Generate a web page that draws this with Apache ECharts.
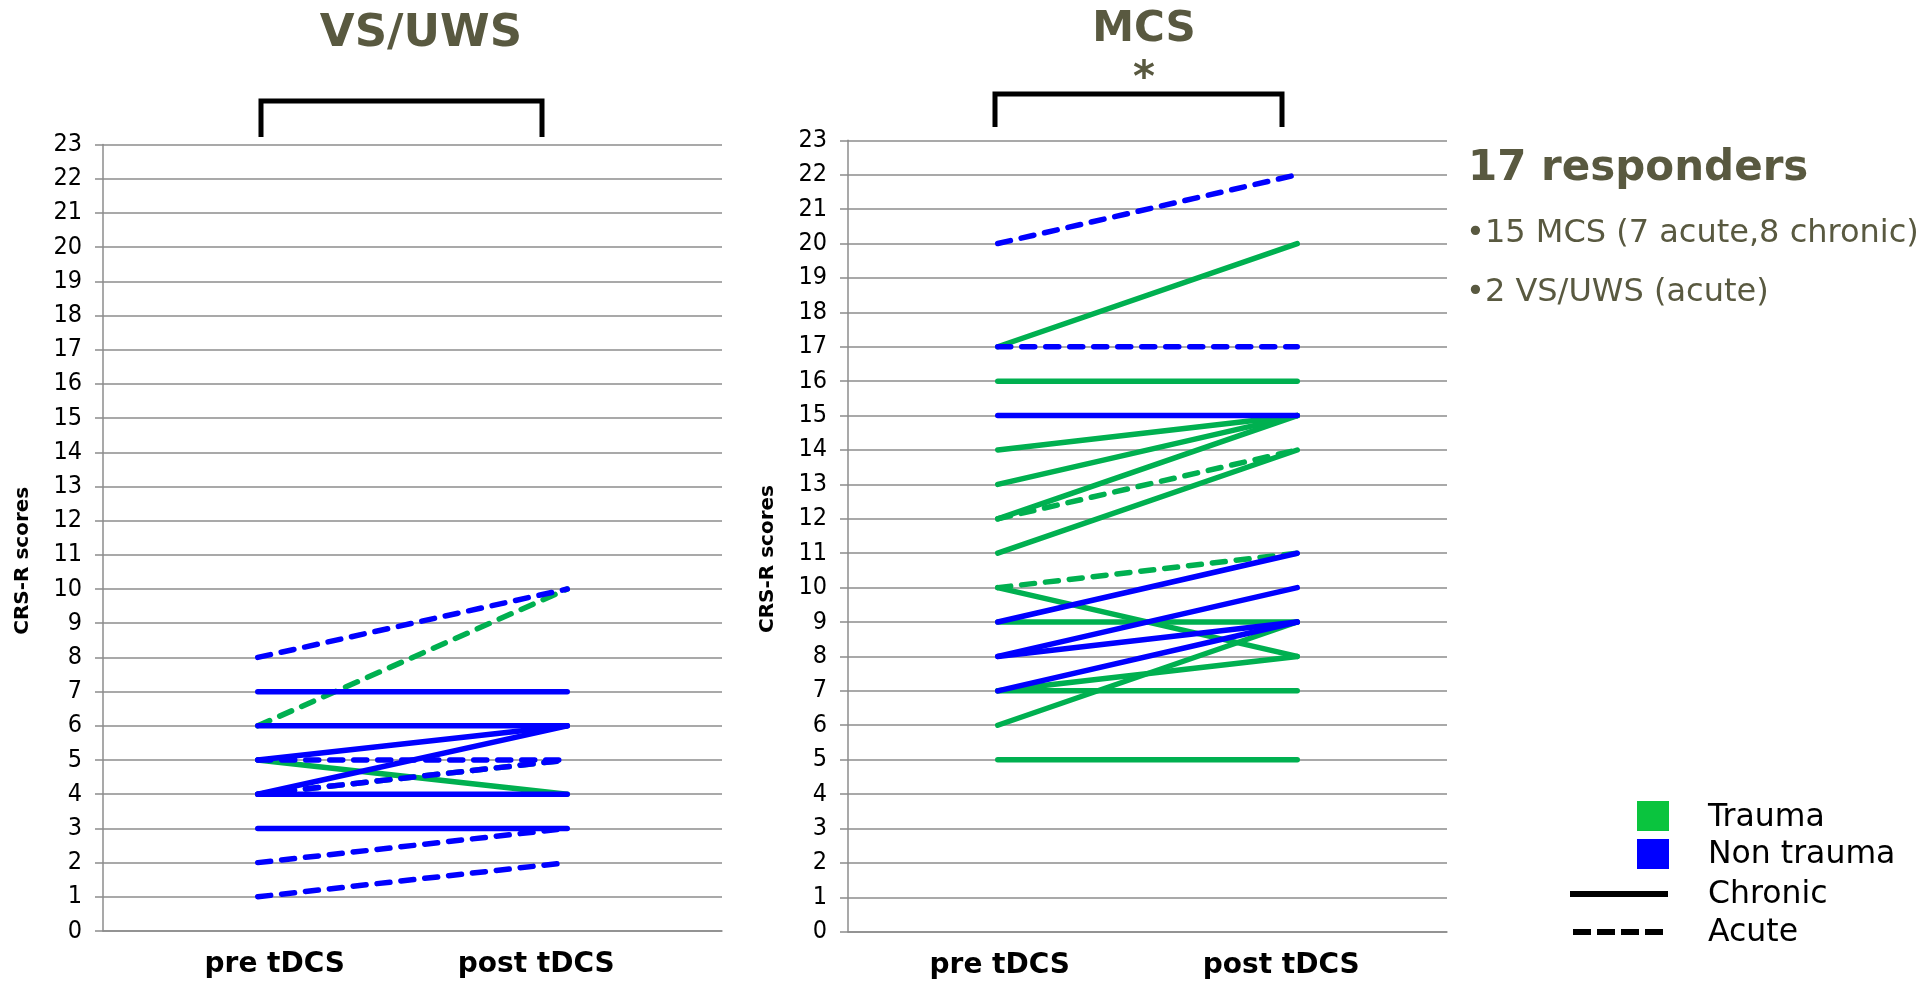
<!DOCTYPE html>
<html>
<head>
<meta charset="utf-8">
<script src="https://cdn.jsdelivr.net/npm/echarts@6/dist/echarts.min.js"></script>
<style>
html,body{margin:0;padding:0;background:#fff;}
#chart{width:1919px;height:982px;}
</style>
</head>
<body>
<div id="chart"></div>
<script>
// ---- data ----
const categories = ['pre tDCS', 'post tDCS'];
const yMin = 0, yMax = 23, yStep = 1;

// VS/UWS panel
const vsPre   = [8, 6, 7, 6, 5, 4, 5, 5, 4, 4, 4, 3, 2, 1];
const vsPost  = [10, 10, 7, 6, 6, 6, 5, 4, 5, 5, 4, 3, 3, 2];
const vsCause = ['non', 'trauma', 'non', 'non', 'non', 'non', 'non', 'trauma', 'trauma', 'non', 'non', 'non', 'non', 'non'];
const vsPhase = ['acute', 'acute', 'chronic', 'chronic', 'chronic', 'chronic', 'acute', 'chronic', 'acute', 'acute', 'chronic', 'chronic', 'acute', 'acute'];

// MCS panel
const mcsPre   = [20, 17, 17, 16, 15, 14, 13, 12, 12, 11, 10, 9, 10, 9, 8, 8, 7, 7, 7, 6, 5];
const mcsPost  = [22, 20, 17, 16, 15, 15, 15, 15, 14, 14, 11, 11, 8, 9, 10, 9, 9, 8, 7, 9, 5];
const mcsCause = ['non', 'trauma', 'non', 'trauma', 'non', 'trauma', 'trauma', 'trauma', 'trauma', 'trauma', 'trauma', 'non', 'trauma', 'trauma', 'non', 'non', 'non', 'trauma', 'trauma', 'trauma', 'trauma'];
const mcsPhase = ['acute', 'chronic', 'acute', 'chronic', 'chronic', 'chronic', 'chronic', 'chronic', 'acute', 'chronic', 'acute', 'chronic', 'chronic', 'chronic', 'chronic', 'chronic', 'chronic', 'chronic', 'chronic', 'chronic', 'chronic'];

const panelTitles = ['VS/UWS', 'MCS'];
const significance = '*';
const yAxisName = 'CRS-R scores';
const summaryTitle = '17 responders';
const summaryLines = ['•15 MCS (7 acute,8 chronic)', '•2 VS/UWS (acute)'];
const legendLabels = ['Trauma', 'Non trauma', 'Chronic', 'Acute'];

// ---- styles ----
const GREEN = '#00B050';
const BLUE = '#0000FF';
const OLIVE = '#595940';
const GRIDC = '#8c8c8c';
const FONT = '"DejaVu Sans", Verdana, sans-serif';
const TICKFONT = '"Liberation Sans Narrow", "DejaVu Sans Condensed", "Liberation Sans", sans-serif';

function buildSeries(pre, post, cause, phase, idx) {
  return pre.map((p, i) => ({
    type: 'line',
    xAxisIndex: idx,
    yAxisIndex: idx,
    data: [p, post[i]],
    symbol: 'none',
    silent: true,
    lineStyle: {
      color: cause[i] === 'trauma' ? GREEN : BLUE,
      width: 5.5,
      type: phase[i] === 'acute' ? [13, 11] : 'solid',
      cap: 'round',
      join: 'round'
    },
    z: cause[i] === 'trauma' ? 2 : 3
  }));
}

function xAxis(idx, shifts) {
  return {
    type: 'category',
    gridIndex: idx,
    data: categories,
    boundaryGap: true,
    axisLine: { show: true, lineStyle: { color: GRIDC, width: 1.5 } },
    axisTick: { show: false },
    axisLabel: {
      margin: 20,
      interval: 0,
      formatter: (v, i) => '{' + (i === 0 ? 'a' : 'b') + '|' + v + '}',
      rich: {
        a: { fontFamily: FONT, fontWeight: 'bold', fontSize: 28, color: '#000', padding: shifts[0] },
        b: { fontFamily: FONT, fontWeight: 'bold', fontSize: 28, color: '#000', padding: shifts[1] }
      }
    }
  };
}

function yAxis(idx) {
  return {
    type: 'value',
    gridIndex: idx,
    min: yMin, max: yMax, interval: yStep,
    name: yAxisName,
    nameLocation: 'middle',
    nameRotate: 90,
    nameGap: 70,
    nameTextStyle: { fontFamily: FONT, fontWeight: 'bold', fontSize: 20, color: '#000', padding: [0, 46, 0, 0] },
    axisLine: { show: true, lineStyle: { color: GRIDC, width: 1.5 } },
    axisTick: { show: true, length: 8, lineStyle: { color: GRIDC, width: 1.5 } },
    axisLabel: { margin: 21, fontFamily: TICKFONT, fontSize: 25, color: '#000' },
    splitLine: { show: true, lineStyle: { color: GRIDC, width: 1.5 } }
  };
}

const chart = echarts.init(document.getElementById('chart'), null, { renderer: 'canvas' });

const graphics = [
  // brackets
  { type: 'polyline', shape: { points: [[261, 137], [261, 101], [542, 101], [542, 137]] }, style: { stroke: '#000', lineWidth: 5, fill: null } },
  { type: 'polyline', shape: { points: [[995, 127], [995, 94], [1282, 94], [1282, 127]] }, style: { stroke: '#000', lineWidth: 5, fill: null } },
  // summary
  { type: 'text', x: 1468, y: 169, style: { text: summaryTitle, font: 'bold 42px ' + FONT, fill: OLIVE, verticalAlign: 'middle' } },
  { type: 'text', x: 1466, y: 234, style: { text: summaryLines[0], font: '32px ' + FONT, fill: OLIVE, verticalAlign: 'middle' } },
  { type: 'text', x: 1466, y: 293, style: { text: summaryLines[1], font: '32px ' + FONT, fill: OLIVE, verticalAlign: 'middle' } },
  // legend
  { type: 'rect', shape: { x: 1637, y: 801, width: 32, height: 30 }, style: { fill: '#0AC43E' } },
  { type: 'rect', shape: { x: 1637, y: 839, width: 32, height: 30 }, style: { fill: '#0000FF' } },
  { type: 'line', shape: { x1: 1570, y1: 894, x2: 1668, y2: 894 }, style: { stroke: '#000', lineWidth: 6 } },
  { type: 'line', shape: { x1: 1573, y1: 932, x2: 1663, y2: 932 }, style: { stroke: '#000', lineWidth: 6, lineDash: [18, 6] } },
  { type: 'text', x: 1708, y: 818, style: { text: legendLabels[0], font: '31.5px ' + FONT, fill: '#000', verticalAlign: 'middle' } },
  { type: 'text', x: 1708, y: 855, style: { text: legendLabels[1], font: '31.5px ' + FONT, fill: '#000', verticalAlign: 'middle' } },
  { type: 'text', x: 1708, y: 895, style: { text: legendLabels[2], font: '31.5px ' + FONT, fill: '#000', verticalAlign: 'middle' } },
  { type: 'text', x: 1708, y: 933, style: { text: legendLabels[3], font: '31.5px ' + FONT, fill: '#000', verticalAlign: 'middle' } }
];

const option = {
  animation: false,
  backgroundColor: '#fff',
  title: [
    { text: panelTitles[0], left: 416, top: 7, textAlign: 'center', textStyle: { fontFamily: FONT, fontWeight: 'bold', fontSize: 45, color: OLIVE } },
    { text: panelTitles[1] + '\n' + significance, left: 1139, top: 0, textAlign: 'center', textStyle: { fontFamily: FONT, fontWeight: 'bold', fontSize: 42, color: OLIVE, lineHeight: 50 } }
  ],
  grid: [
    { left: 103, top: 144.5, width: 619, height: 786.5, containLabel: false },
    { left: 848, top: 140.3, width: 599, height: 791.4, containLabel: false }
  ],
  xAxis: [xAxis(0, [[0, 0, 0, 34], [0, 62, 0, 0]]), xAxis(1, [[0, 0, 0, 4], [0, 32, 0, 0]])],
  yAxis: [yAxis(0), yAxis(1)],
  series: [].concat(buildSeries(vsPre, vsPost, vsCause, vsPhase, 0), buildSeries(mcsPre, mcsPost, mcsCause, mcsPhase, 1)),
  graphic: graphics
};
chart.setOption(option);
</script>
</body>
</html>
